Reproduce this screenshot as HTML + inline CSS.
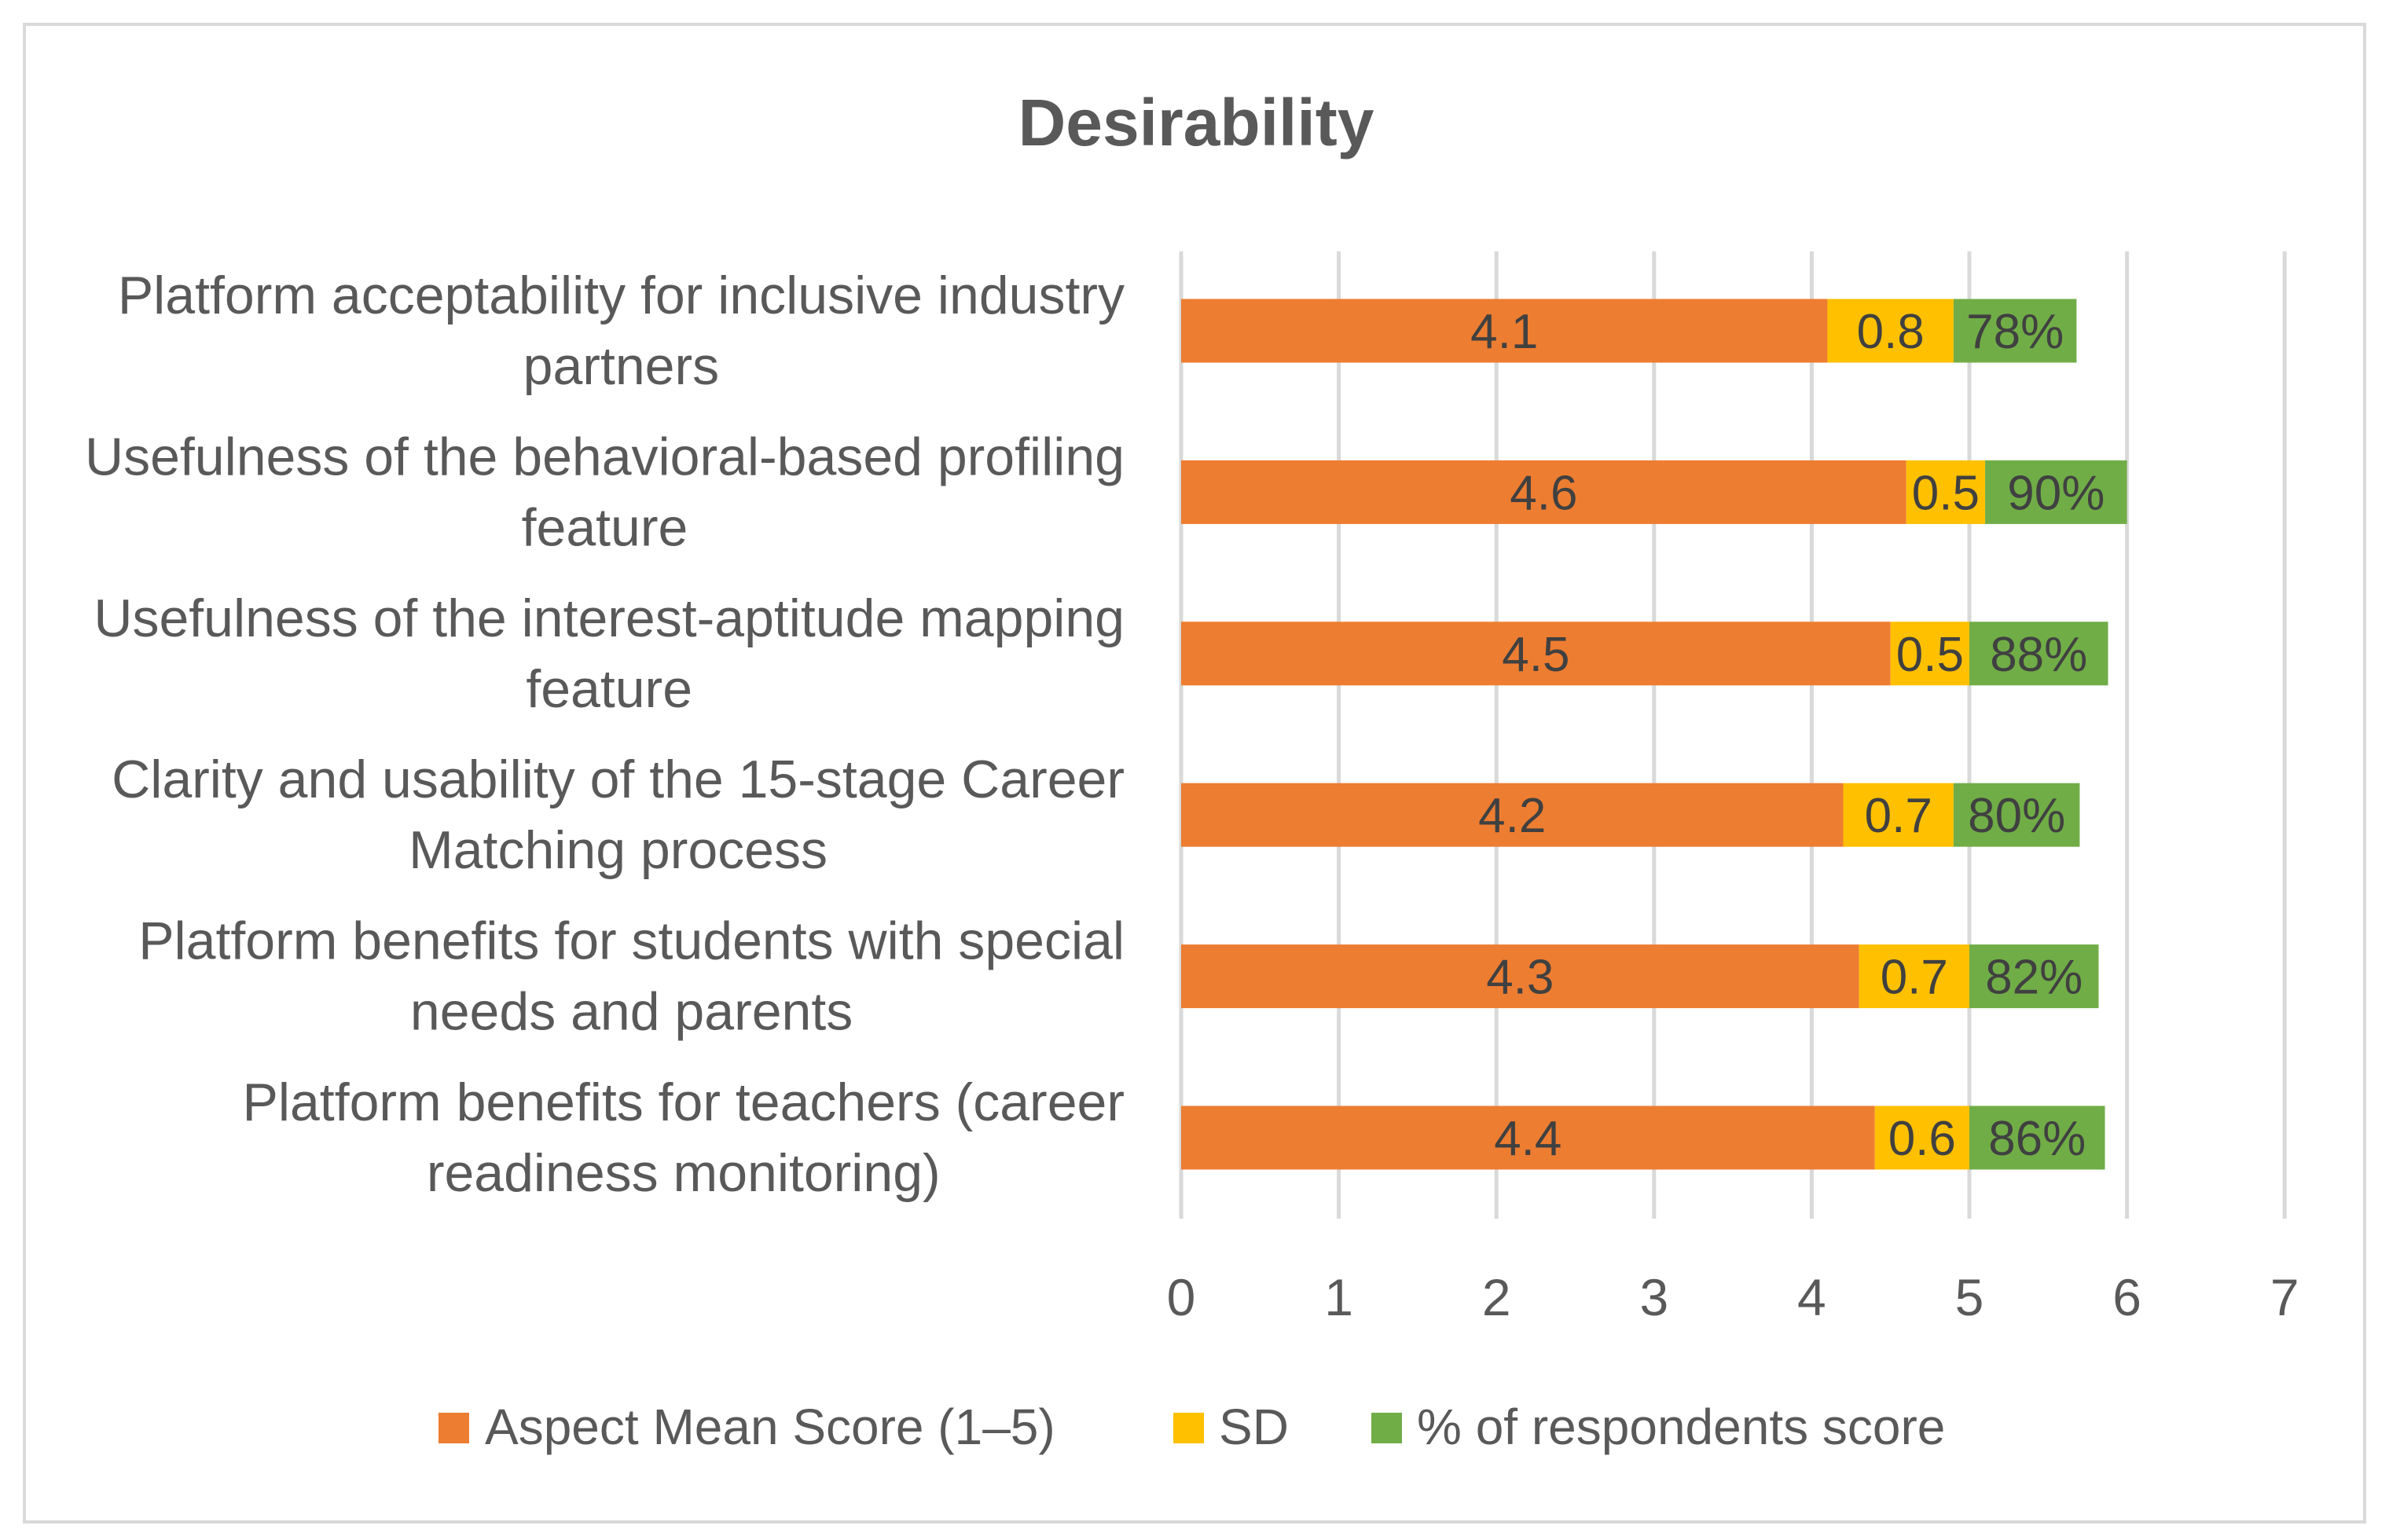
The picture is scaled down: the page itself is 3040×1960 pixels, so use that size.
<!DOCTYPE html>
<html><head><meta charset="utf-8"><style>
html,body{margin:0;padding:0;background:#fff;}
svg{display:block;font-family:"Liberation Sans",sans-serif;}
</style></head><body>
<svg id="chart" width="3040" height="1960" viewBox="0 0 3040 1960">
<rect x="31" y="31" width="2978" height="1906" fill="#fff" stroke="#d9d9d9" stroke-width="4"/>
<text x="1522" y="185" text-anchor="middle" font-size="84" font-weight="bold" fill="#595959">Desirability</text>
<g id="grid"></g><g id="bars"></g><g id="labels"></g><g id="ticks"></g>
<g>
<g><rect x="558" y="1798" width="39" height="39" fill="#ed7d31"/><text x="617" y="1838" font-size="64" fill="#595959">Aspect Mean Score (1–5)</text></g>
<g><rect x="1493" y="1798" width="39" height="39" fill="#ffc000"/><text x="1551" y="1838" font-size="64" fill="#595959">SD</text></g>
<g><rect x="1745" y="1798" width="39" height="39" fill="#70ad47"/><text x="1803" y="1838" font-size="64" fill="#595959">% of respondents score</text></g>
</g>
</svg>
<script>
const categories=[["Platform acceptability for inclusive industry","partners"],["Usefulness of the behavioral-based profiling","feature"],["Usefulness of the interest-aptitude mapping","feature"],["Clarity and usability of the 15-stage Career","Matching process"],["Platform benefits for students with special","needs and parents"],["Platform benefits for teachers (career","readiness monitoring)"]];
const meanScores=[4.1,4.6,4.5,4.2,4.3,4.4];
const sdValues=[0.8,0.5,0.5,0.7,0.7,0.6];
const pctValues=[0.78,0.90,0.88,0.80,0.82,0.86];
const pctLabels=["78%","90%","88%","80%","82%","86%"];
const xTicks=[0,1,2,3,4,5,6,7];
const NS="http://www.w3.org/2000/svg";
const X0=1503,UNIT=200.6,Y0=421,STEP=205.4,BH=81;
const xs=v=>X0+v*UNIT;
const yc=i=>Y0+i*STEP;
function mk(tag,attrs,parent){const e=document.createElementNS(NS,tag);for(const k in attrs)e.setAttribute(k,attrs[k]);parent.appendChild(e);return e;}
const grid=document.getElementById('grid'),bars=document.getElementById('bars'),labels=document.getElementById('labels'),ticks=document.getElementById('ticks');
xTicks.forEach(t=>{
 const l=mk('line',{x1:xs(t),x2:xs(t),y1:320,y2:1551,stroke:'#d9d9d9','stroke-width':5},grid);
 
 
 const tx=mk('text',{x:xs(t),y:1674,'text-anchor':'middle','font-size':66,fill:'#595959'},ticks);
 tx.textContent=t;
 
 
});
categories.forEach((c,i)=>{
 const y=yc(i);
 const segs=[[0,meanScores[i],'#ed7d31',meanScores[i].toFixed(1),'mean'],[meanScores[i],meanScores[i]+sdValues[i],'#ffc000',sdValues[i].toFixed(1),'sd'],[meanScores[i]+sdValues[i],meanScores[i]+sdValues[i]+pctValues[i],'#70ad47',pctLabels[i],'pct']];
 segs.forEach(s=>{
  const r=mk('rect',{x:xs(s[0]),y:y-BH/2,width:xs(s[1])-xs(s[0]),height:BH,fill:s[2]},bars);
  
  
  const t=mk('text',{x:(xs(s[0])+xs(s[1]))/2,y:y+22,'text-anchor':'middle','font-size':62,fill:'#404040'},bars);
  t.textContent=s[3];
  
  
 });
 const g=mk('g',{},labels);
 
 
 const t1=mk('text',{y:y-22,'font-size':60,fill:'#595959','text-anchor':'middle'},g);t1.textContent=c[0];
 const t2=mk('text',{y:y+68,'font-size':60,fill:'#595959','text-anchor':'middle'},g);t2.textContent=c[1];
 const w=Math.max(t1.getComputedTextLength(),t2.getComputedTextLength());
 const target=[1322,1340,1344,1293,1292,1143][i];
 let fs=Math.min(68,60*target/w);
 t1.setAttribute('font-size',fs);t2.setAttribute('font-size',fs);
 const cx=1431-(w*fs/60)/2;
 t1.setAttribute('x',cx);t2.setAttribute('x',cx);
});
</script>
</body></html>
